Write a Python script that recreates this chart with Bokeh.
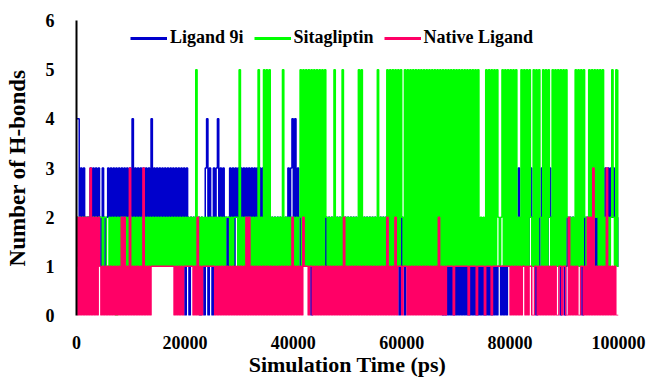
from bokeh.plotting import figure
from bokeh.models import FixedTicker, NumeralTickFormatter, Legend, LegendItem, ColumnDataSource
from bokeh.embed import file_html
from bokeh.resources import INLINE

# H-bond counts, one digit per 250 ps sample (0 .. 100000 ps)
SAMPLE_STEP_PS = 250

LIGAND_9I = (
    "44232322223232323213" "21232323232323232323" "24232323232323242323" "23232323232323232323"
    "03202121212021034032" "03234232322123231323" "23232323232323232321" "21212121212121213234"
    "24232121212120212121" "21212121212121212121" "21212121212121212121" "21212121212121212101"
    "21012121212121212121" "21212121210101010101" "01010101010101010101" "01010101010110101011"
    "21212131212121232120" "21232121232121212021" "01212121212120212121" "21212121213232323221"
    "2"
)
SITAGLIPTIN = (
    "21212121212121212221" "22112121202121212121" "21212121212121212121" "21212121212121212121"
    "21212121512121212121" "21212121212221212221" "51212121212121512151" "51512121212151212121"
    "21212515151515151515" "15152121215121215121" "21212121515121212121" "21512121251515151515"
    "21515151515151515151" "51515151515151515151" "51515151515151515121" "21515151515212515151"
    "51515121515151521515" "15215151521515151515" "15212121515151521251" "51525151512121252151"
    "5"
)
NATIVE_LIGAND = (
    "20202020203020202101" "01010101010102020103" "01010101030101011111" "11111111111101010101"
    "11111101020101111111" "11010101010101010101" "01010202010101010101" "01010101010101010102"
    "01010102111011010101" "01010101010101010201" "01010101010101010101" "01010101020101020111"
    "01110101010101010101" "01010102010101111101" "11111111101111101111" "10111101111111111111"
    "01010101011010110011" "01010101010101001101" "10020101010011010202" "03010101010301010100"
    "0"
)

SERIES_NAMES = ["Ligand 9i", "Sitagliptin", "Native Ligand"]
SERIES_COLORS = ["#0000CC", "#00FF00", "#FF0066"]
X_TICKS = [0, 20000, 40000, 60000, 80000, 100000]
Y_TICKS = [0, 1, 2, 3, 4, 5, 6]
X_TITLE = "Simulation Time (ps)"
Y_TITLE = "Number of H-bonds"

series = [LIGAND_9I, SITAGLIPTIN, NATIVE_LIGAND]
n = len(LIGAND_9I)
assert all(len(s) == n for s in series), [len(s) for s in series]
t = [SAMPLE_STEP_PS * i for i in range(n)]

FONT = "Liberation Serif"

p = figure(width=646, height=379, x_range=(0, 100000), y_range=(0, 6),
           output_backend="svg", toolbar_location=None,
           min_border_left=76, min_border_right=28, min_border_top=20, min_border_bottom=62)
p.outline_line_color = None
p.grid.visible = False
p.background_fill_color = "white"
p.border_fill_color = "white"

for s, c in zip(series, SERIES_COLORS):
    src = ColumnDataSource(dict(t=t, v=[int(ch) for ch in s]))
    p.step(x="t", y="v", source=src, mode="after", line_color=c, line_width=1.5)

# legend proxies (thicker line as in the reference legend); a single NaN point draws nothing
items = []
for name, c in zip(SERIES_NAMES, SERIES_COLORS):
    r = p.line(x=[float("nan")], y=[float("nan")], line_color=c, line_width=3)
    items.append(LegendItem(label=name, renderers=[r]))
legend = Legend(items=items, orientation="horizontal", location=(54, 267),
                glyph_width=37, glyph_height=20, label_height=20, label_standoff=3, spacing=10,
                padding=0, margin=0, background_fill_alpha=0, border_line_color=None,
                label_text_font=FONT, label_text_font_style="bold", label_text_font_size="18px",
                label_text_color="black")
p.add_layout(legend)

p.xaxis.ticker = FixedTicker(ticks=X_TICKS)
p.xaxis.formatter = NumeralTickFormatter(format="0")
p.yaxis.ticker = FixedTicker(ticks=Y_TICKS)

for ax in (p.xaxis, p.yaxis):
    ax.major_tick_line_color = None
    ax.minor_tick_line_color = None
    ax.major_label_text_font = FONT
    ax.major_label_text_font_style = "bold"
    ax.major_label_text_font_size = "18px"
    ax.major_label_text_color = "black"
    ax.axis_label_text_font = FONT
    ax.axis_label_text_font_style = "bold"
    ax.axis_label_text_color = "black"

p.xaxis.axis_line_color = None
p.xaxis.axis_label = X_TITLE
p.xaxis.axis_label_text_font_size = "22px"
p.xaxis.major_label_standoff = 14
p.xaxis.axis_label_standoff = 0

p.yaxis.axis_line_color = "black"
p.yaxis.axis_line_width = 2
p.yaxis.axis_label = Y_TITLE
p.yaxis.axis_label_text_font_size = "23px"
p.yaxis.major_label_standoff = 16
p.yaxis.axis_label_standoff = 13

open("out.html", "w").write(file_html(p, INLINE))
